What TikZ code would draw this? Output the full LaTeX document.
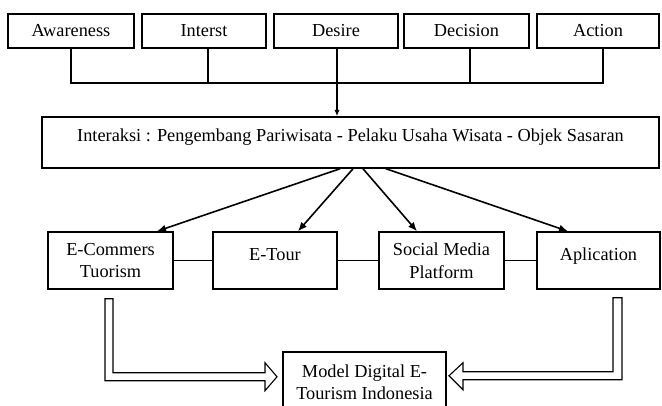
\documentclass[tikz,border=0pt]{standalone}
\usepackage{fontspec}
\setmainfont{Liberation Serif}
\usetikzlibrary{arrows.meta,calc}
\begin{document}
\begin{tikzpicture}[x=1pt,y=1pt,
  box/.style={draw, line width=1.5pt, inner sep=0pt, align=center, font=\fontsize{18.3}{22.5}\selectfont},
  conn/.style={line width=1.4pt},
  arr/.style={line width=1.6pt, -{Latex[length=9pt,width=7.5pt]}},
  dbl/.style={line width=1.1pt, fill=white, line join=miter}]
\useasboundingbox (0,0) rectangle (662,-405);
% top row
\node[box, minimum width=126, minimum height=34] (aw) at (71,-31) {Awareness};
\node[box, minimum width=124, minimum height=34] (intr) at (204,-31) {Interst};
\node[box, minimum width=124, minimum height=34] (de) at (336,-31) {Desire};
\node[box, minimum width=125, minimum height=34] (dc) at (466.5,-31) {Decision};
\node[box, minimum width=122, minimum height=34] (ac) at (598,-31) {Action};
% interaction
\node[box, minimum width=617, minimum height=51, text height=12pt, text depth=15pt] (inter) at (350.5,-142.5)
  {Interaksi : Pengembang Pariwisata - Pelaku Usaha Wisata - Objek Sasaran};
% middle row
\node[box, minimum width=125, minimum height=57] (ecom) at (110.5,-260.5) {E-Commers\\Tuorism};
\node[box, minimum width=124, minimum height=57, text height=12pt, text depth=13pt] (etour) at (275,-260.5) {E-Tour};
\node[box, minimum width=125, minimum height=57] (soc) at (441.5,-260.5) {Social Media\\Platform};
\node[box, minimum width=123, minimum height=57, text height=12pt, text depth=13pt] (apl) at (598.5,-260.5) {Aplication};
% model
\node[box, minimum width=163, minimum height=60] (model) at (364.5,-382) {Model Digital E-\\Tourism Indonesia};
% top tree
\coordinate (bar) at (0,-83);
\draw[conn] (aw.south) -- (aw.south |- bar) -- ($(ac.south |- bar)+(5,0)$) -- ($(ac.south)+(5,0)$);
\draw[conn] ($(intr.south)+(4,0)$) -- ($(intr.south |- bar)+(4,0)$);
\draw[conn] ($(dc.south)+(3.5,0)$) -- ($(dc.south |- bar)+(3.5,0)$);
\draw[conn, -{Latex[length=6.5pt,width=5.5pt]}] ($(de.south)+(1,0)$) -- ($(de.south |- inter.north)+(1,0)$);
% fan arrows
\draw[arr] ($(inter.south)+(-10.5,0)$) -- ($(ecom.north)+(46.5,0)$);
\draw[arr] ($(inter.south)+(2.5,0)$) -- ($(etour.north)+(23,0)$);
\draw[arr] ($(inter.south)+(12.5,0)$) -- ($(soc.north)+(-24.5,0)$);
\draw[arr] ($(inter.south)+(35.5,0)$) -- ($(apl.north)+(-30.5,0)$);
% horizontal links
\draw[conn] (ecom.east) -- (etour.west);
\draw[conn] (etour.east) -- (soc.west);
\draw[conn] (soc.east) -- (apl.west);
% double arrows
\draw[dbl] ($(ecom.south)+(-5.5,-9)$) -- ++(8,0) -- ++(0,-74) -- ++(152,0) -- ++(0,10)
  -- ++(12,-14) -- ++(-12,-14) -- ++(0,10) -- ++(-160,0) -- cycle;
\draw[dbl] ($(apl.south)+(23.5,-8)$) -- ++(-9,0) -- ++(0,-74) -- ++(-150,0) -- ++(0,9)
  -- ++(-14,-13) -- ++(14,-14) -- ++(0,10) -- ++(159,0) -- cycle;
\end{tikzpicture}
\end{document}
